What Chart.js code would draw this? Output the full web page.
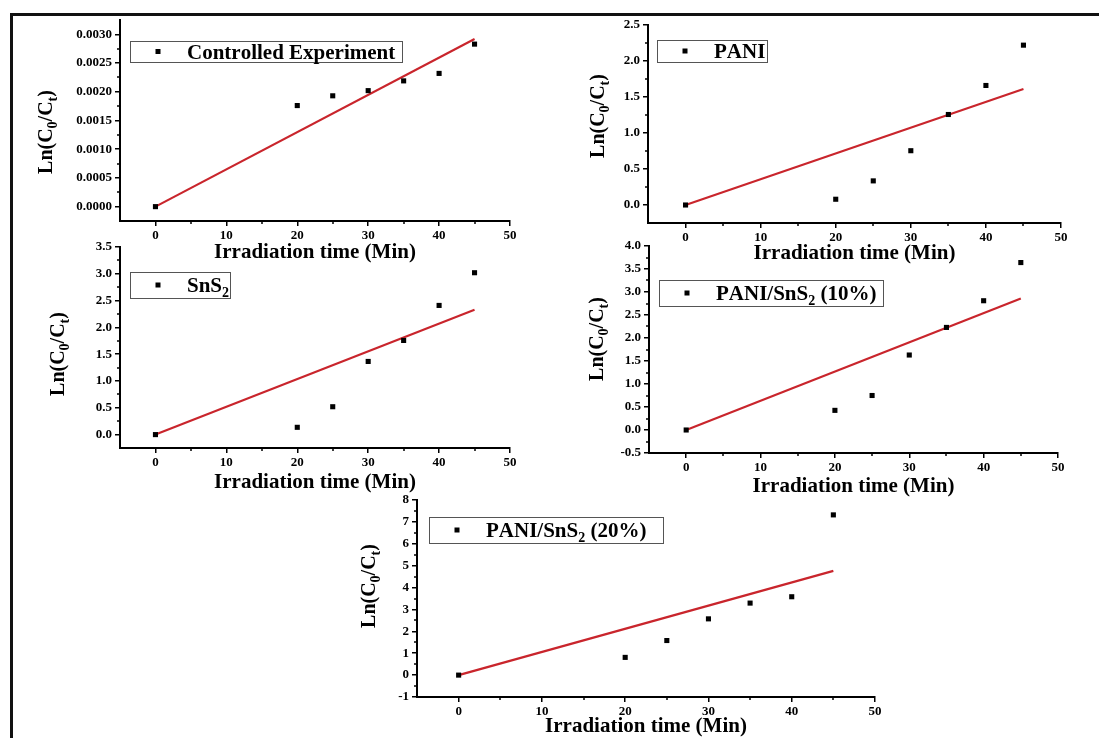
<!DOCTYPE html>
<html>
<head>
<meta charset="utf-8">
<script src="https://cdn.jsdelivr.net/npm/chart.js@4.4.1/dist/chart.umd.min.js"></script>
<style>
  html, body { margin: 0; padding: 0; background: #fff; overflow: hidden; }
  body { width: 1099px; height: 738px; position: relative; }
  #frame {
    position: absolute; left: 10px; top: 13px; right: 0; bottom: 0;
    border-top: 3px solid #111; border-left: 3px solid #111;
  }
  canvas { position: absolute; }
</style>
</head>
<body>
<div id="frame"></div>
<script>
// irradiation times (min) and the two ends of each linear fit
const times = [0, 20, 25, 30, 35, 40, 45];
const fitTimes = [0, 45];

const controlValues = [0, 0.00176, 0.00193, 0.00202, 0.00219, 0.00232, 0.00283];
const controlFit = [0, 0.00292];
const paniValues = [0, 0.08, 0.335, 0.754, 1.257, 1.66, 2.22];
const paniFit = [0, 1.61];
const sns2Values = [0, 0.136, 0.52, 1.365, 1.756, 2.41, 3.02];
const sns2Fit = [0, 2.33];
const pani10Values = [0, 0.427, 0.75, 1.63, 2.23, 2.81, 3.64];
const pani10Fit = [0, 2.86];
const pani20Values = [0, 0.81, 1.58, 2.57, 3.29, 3.58, 7.32];
const pani20Fit = [0, 4.76];

// tick labels
const xTicks = [0, 10, 20, 30, 40, 50];
const yTicksControl = [0, 0.0005, 0.001, 0.0015, 0.002, 0.0025, 0.003];
const yTicksPani = [0, 0.5, 1, 1.5, 2, 2.5];
const yTicksSns2 = [0, 0.5, 1, 1.5, 2, 2.5, 3, 3.5];
const yTicksPani10 = [-0.5, 0, 0.5, 1, 1.5, 2, 2.5, 3, 3.5, 4];
const yTicksPani20 = [-1, 0, 1, 2, 3, 4, 5, 6, 7, 8];

const seriesNames = ['Controlled Experiment', 'PANI', 'SnS₂', 'PANI/SnS₂ (10%)', 'PANI/SnS₂ (20%)'];
const xTitle = 'Irradiation time (Min)';
const yTitle = 'Ln(C₀/Cₜ)';

const SERIF = '"Liberation Serif", "Times New Roman", serif';
const FIT_RED = '#c9252c';

// page layout of each panel (plot box in page pixels)
const panels = [
  { name: seriesNames[0], values: controlValues, fit: controlFit, yTicks: yTicksControl,
    yMin: -0.00025, yMax: 0.00325, dec: 4,
    plot: { left: 120, top: 20, right: 510, bottom: 221 },
    yTitleAt: [45, 132], xTitleGap: 32, legend: { x: 130, y: 41, w: 272, h: 21 } },
  { name: seriesNames[1], values: paniValues, fit: paniFit, yTicks: yTicksPani,
    yMin: -0.25, yMax: 2.5, dec: 1,
    plot: { left: 648, top: 25, right: 1061, bottom: 223 },
    yTitleAt: [597, 116], xTitleGap: 31, legend: { x: 657, y: 40, w: 110, h: 22 } },
  { name: seriesNames[2], values: sns2Values, fit: sns2Fit, yTicks: yTicksSns2,
    yMin: -0.25, yMax: 3.5, dec: 1,
    plot: { left: 120, top: 247, right: 510, bottom: 448 },
    yTitleAt: [57, 354], xTitleGap: 35, legend: { x: 130, y: 272, w: 100, h: 26 } },
  { name: seriesNames[3], values: pani10Values, fit: pani10Fit, yTicks: yTicksPani10,
    yMin: -0.5, yMax: 4, dec: 1,
    plot: { left: 649, top: 246, right: 1058, bottom: 453 },
    yTitleAt: [596, 339], xTitleGap: 34, legend: { x: 659, y: 280, w: 224, h: 26 } },
  { name: seriesNames[4], values: pani20Values, fit: pani20Fit, yTicks: yTicksPani20,
    yMin: -1, yMax: 8, dec: 0,
    plot: { left: 417, top: 500, right: 875, bottom: 697 },
    yTitleAt: [368, 586], xTitleGap: 30, legend: { x: 429, y: 517, w: 234, h: 26 } }
];

const SUBS = { '₀': '0', '₁': '1', '₂': '2', '₃': '3', '₄': '4', '₅': '5', '₆': '6', '₇': '7', '₈': '8', '₉': '9', 'ₜ': 't' };

// draw text with real subscripts, starting at x on baseline y
function richWidth(ctx, text, size) {
  let w = 0;
  for (const ch of text) {
    if (SUBS[ch]) { ctx.font = 'bold ' + Math.round(size * 0.68) + 'px ' + SERIF; w += ctx.measureText(SUBS[ch]).width; }
    else { ctx.font = 'bold ' + size + 'px ' + SERIF; w += ctx.measureText(ch).width; }
  }
  return w;
}
function drawRich(ctx, text, x, y, size) {
  ctx.textAlign = 'left';
  ctx.textBaseline = 'alphabetic';
  for (const ch of text) {
    if (SUBS[ch]) {
      ctx.font = 'bold ' + Math.round(size * 0.68) + 'px ' + SERIF;
      ctx.fillText(SUBS[ch], x, y + size * 0.25);
      x += ctx.measureText(SUBS[ch]).width;
    } else {
      ctx.font = 'bold ' + size + 'px ' + SERIF;
      ctx.fillText(ch, x, y);
      x += ctx.measureText(ch).width;
    }
  }
}

// minor ticks, y title and boxed legend
const decorPlugin = {
  id: 'decor',
  afterDraw(chart) {
    const cfg = chart.options.plugins.decor;
    const ctx = chart.ctx;
    const xs = chart.scales.x, ys = chart.scales.y;
    const area = chart.chartArea;
    ctx.save();
    ctx.strokeStyle = '#000';
    ctx.lineWidth = 1.5;
    for (let i = 0; i < xTicks.length - 1; i++) {
      const px = Math.round(xs.getPixelForValue((xTicks[i] + xTicks[i + 1]) / 2));
      ctx.beginPath(); ctx.moveTo(px, area.bottom); ctx.lineTo(px, area.bottom + 3); ctx.stroke();
    }
    const yt = cfg.yTicks;
    for (let i = 0; i < yt.length - 1; i++) {
      const py = Math.round(ys.getPixelForValue((yt[i] + yt[i + 1]) / 2));
      ctx.beginPath(); ctx.moveTo(area.left, py); ctx.lineTo(area.left - 3, py); ctx.stroke();
    }

    // y axis title
    ctx.fillStyle = '#000';
    const ts = 20;
    ctx.save();
    ctx.translate(cfg.yTitleAt[0], cfg.yTitleAt[1]);
    ctx.rotate(-Math.PI / 2);
    const tw = richWidth(ctx, yTitle, ts);
    drawRich(ctx, yTitle, -tw / 2, ts * 0.33, ts);
    ctx.restore();

    // legend box
    const lg = cfg.legend;
    ctx.strokeStyle = '#555';
    ctx.lineWidth = 1;
    ctx.strokeRect(lg.x + 0.5, lg.y + 0.5, lg.w, lg.h);
    const cy = lg.y + lg.h / 2;
    ctx.fillStyle = '#000';
    ctx.fillRect(lg.x + 28 - 2.5, cy - 2.5, 5, 5);
    drawRich(ctx, chart.data.datasets[0].label, lg.x + 57, cy + 7, 21);
    ctx.restore();
  }
};

panels.forEach(function(p, idx) {
  const canvasLeft = p.plot.left - 110;
  const canvasTop = p.plot.top - 12;
  const W = p.plot.right - p.plot.left + 130;
  const H = p.plot.bottom - p.plot.top + 12 + 45;

  const canvas = document.createElement('canvas');
  canvas.width = W;
  canvas.height = H;
  canvas.style.left = canvasLeft + 'px';
  canvas.style.top = canvasTop + 'px';
  document.body.appendChild(canvas);

  const tickFont = { family: SERIF, weight: 'bold', size: 13 };

  new Chart(canvas.getContext('2d'), {
    type: 'scatter',
    data: {
      datasets: [
        {
          label: p.name,
          data: times.map((t, i) => ({ x: t, y: p.values[i] })),
          pointStyle: 'rect',
          pointRadius: 3.6,
          backgroundColor: '#000',
          borderColor: '#000',
          borderWidth: 0,
          order: 0
        },
        {
          label: 'fit',
          data: fitTimes.map((t, i) => ({ x: t, y: p.fit[i] })),
          showLine: true,
          pointRadius: 0,
          borderColor: FIT_RED,
          borderWidth: 2.2,
          order: 1
        }
      ]
    },
    options: {
      responsive: false,
      animation: false,
      events: [],
      layout: { padding: { left: 50, top: 12, right: 20, bottom: 0 } },
      plugins: {
        legend: { display: false },
        tooltip: { enabled: false },
        decor: {
          yTicks: p.yTicks,
          yTitleAt: [p.yTitleAt[0] - canvasLeft, p.yTitleAt[1] - canvasTop],
          legend: { x: p.legend.x - canvasLeft, y: p.legend.y - canvasTop, w: p.legend.w, h: p.legend.h }
        }
      },
      scales: {
        x: {
          type: 'linear',
          min: -5,
          max: 50,
          afterBuildTicks: (scale) => { scale.ticks = xTicks.map(v => ({ value: v })); },
          afterFit: (scale) => { scale.height = 45; },
          ticks: { color: '#000', font: tickFont, padding: 2, autoSkip: false, maxRotation: 0,
                   callback: (v) => String(v) },
          grid: { drawOnChartArea: false, drawTicks: true, tickLength: 5, color: '#000', lineWidth: 1.5 },
          border: { display: true, color: '#000', width: 2 },
          title: { display: true, text: xTitle, color: '#000',
                   font: { family: SERIF, weight: 'bold', size: 21 },
                   padding: { top: 0, bottom: 45 - 12.6 - p.xTitleGap } }
        },
        y: {
          type: 'linear',
          min: p.yMin,
          max: p.yMax,
          afterBuildTicks: (scale) => { scale.ticks = p.yTicks.map(v => ({ value: v })); },
          afterFit: (scale) => { scale.width = 60; },
          ticks: { color: '#000', font: tickFont, padding: 3, autoSkip: false,
                   callback: (v) => Number(v).toFixed(p.dec) },
          grid: { drawOnChartArea: false, drawTicks: true, tickLength: 5, color: '#000', lineWidth: 1.5 },
          border: { display: true, color: '#000', width: 2 }
        }
      }
    },
    plugins: [decorPlugin]
  });
});
</script>
</body>
</html>
